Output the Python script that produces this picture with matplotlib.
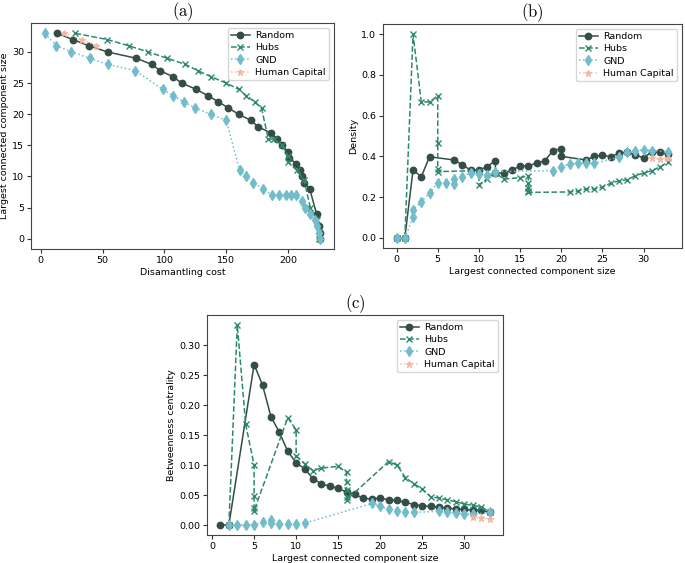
import matplotlib.pyplot as plt

plt.rcParams['mathtext.fontset'] = 'cm'

# colours of the four strategies
c_random = '#344e47'
c_hubs = '#2e8a6c'
c_gnd = '#72bccc'
c_hc = '#f0b49c'

# ---- panel (a): dismantling cost vs LCC size
a_random_x = [13, 26, 38.7, 54, 77, 89.7, 96.6, 107, 114, 125.6, 135, 143.6, 151.7, 160, 170, 175.6,
              186, 191, 195, 200, 201, 206.7, 210, 211, 213, 217.5, 223, 225, 226, 226]
a_random_y = [33, 32, 31, 30, 29, 28, 27, 26, 25, 24, 23, 22, 21, 20, 19, 18,
              17, 16, 15, 14, 13, 12, 11, 10, 9, 8, 4, 2, 1, 0]
a_hubs_x = [28, 53.7, 71, 87, 102, 117, 127, 138, 150, 160, 166, 173, 178.5,
            184, 189, 195, 200, 200, 207, 213, 218, 223, 225, 225]
a_hubs_y = [33, 32, 31, 30, 29, 28, 27, 26, 25, 24, 23, 22, 21,
            16, 16, 15, 13.3, 12.3, 11, 9.4, 5, 3, 1.3, 0]
a_gnd_x = [3.2, 12.6, 24.7, 39.5, 54, 76.5, 98.5, 107, 115.4, 125, 137.4, 150, 160.8, 166, 172, 180,
           187, 193, 198, 202.7, 206.7, 211, 214, 218, 221.5, 223, 225, 225.8]
a_gnd_y = [33, 31, 30, 29, 28, 27, 24, 23, 22, 21, 20, 19, 11, 10, 9, 8,
           7, 7, 7, 7, 7, 6, 5, 4, 3, 2, 1, 0]
a_hc_x = [18.5, 33.6, 44.6]
a_hc_y = [33, 32, 31]

# ---- panel (b): LCC size vs density
b_random_x = [0, 1, 2, 3, 4, 7, 8, 9, 10, 11, 12, 12, 13, 14, 15, 16, 17, 18, 19, 20, 20,
              23, 24, 25, 26, 27, 28, 29, 30, 31, 32, 33]
b_random_y = [0, 0, 0.333, 0.30, 0.398, 0.382, 0.357, 0.333, 0.333, 0.349, 0.379, 0.32, 0.316, 0.333,
              0.352, 0.354, 0.366, 0.379, 0.428, 0.438, 0.40,
              0.382, 0.40, 0.405, 0.398, 0.415, 0.421, 0.406, 0.393, 0.423, 0.42, 0.41]
b_hubs_x = [0, 1, 2, 3, 4, 5, 5, 5, 5, 10, 10, 11, 12, 13, 15, 16, 16, 16, 16, 16,
            21, 22, 23, 24, 25, 26, 27, 28, 29, 30, 31, 32, 33]
b_hubs_y = [0, 0, 1.0, 0.667, 0.667, 0.698, 0.467, 0.336, 0.325, 0.33, 0.26, 0.29, 0.32, 0.288, 0.295,
            0.305, 0.27, 0.243, 0.23, 0.223,
            0.225, 0.23, 0.24, 0.24, 0.25, 0.268, 0.28, 0.285, 0.305, 0.318, 0.33, 0.348, 0.374]
b_gnd_x = [0, 1, 2, 2, 3, 4, 5, 6, 7, 7, 8, 9, 10, 11, 12, 19, 20, 21, 22, 23, 24, 27, 28, 29, 30, 31, 33]
b_gnd_y = [0, 0, 0.1, 0.139, 0.177, 0.221, 0.27, 0.27, 0.265, 0.29, 0.3, 0.32, 0.313, 0.308, 0.325,
           0.33, 0.35, 0.362, 0.366, 0.366, 0.366, 0.395, 0.42, 0.428, 0.431, 0.428, 0.423]
b_hc_x = [31, 32, 33]
b_hc_y = [0.39, 0.388, 0.392]

# ---- panel (c): LCC size vs betweenness centrality
c_random_x = [1, 2, 5, 6, 7, 8, 9, 10, 11, 12, 13, 14, 15, 16, 17, 18, 19, 20, 21, 22, 23, 24,
              25, 26, 27, 28, 29, 30, 31, 32, 33]
c_random_y = [0, 0, 0.268, 0.234, 0.181, 0.155, 0.123, 0.104, 0.094, 0.0775, 0.0686, 0.065, 0.061,
              0.055, 0.051, 0.0446, 0.0435, 0.045, 0.042, 0.041, 0.038, 0.034, 0.032, 0.031, 0.030,
              0.028, 0.027, 0.026, 0.025, 0.0245, 0.021]
c_hubs_x = [2, 3, 4, 5, 5, 5, 5, 9, 10, 10, 11, 12, 13, 15, 16, 16, 16, 16, 16,
            21, 22, 23, 24, 25, 26, 27, 28, 29, 30, 31, 32, 33]
c_hubs_y = [0, 0.334, 0.168, 0.1, 0.049, 0.028, 0.024, 0.179, 0.159, 0.116, 0.102, 0.091, 0.095, 0.098,
            0.088, 0.071, 0.059, 0.046, 0.042,
            0.106, 0.1, 0.079, 0.069, 0.06, 0.047, 0.045, 0.042, 0.039, 0.035, 0.033, 0.03, 0.022]
c_gnd_x = [2, 3, 4, 5, 6, 7, 7, 8, 9, 10, 11, 19, 20, 21, 22, 23, 24, 27, 28, 29, 30, 31, 33]
c_gnd_y = [0, 0, 0, 0, 0.0045, 0.008, 0.003, 0.002, 0.001, 0.002, 0.003, 0.036, 0.031, 0.026, 0.024,
           0.022, 0.021, 0.023, 0.022, 0.02, 0.019, 0.018, 0.021]
c_hc_x = [31, 32, 33]
c_hc_y = [0.0134, 0.0117, 0.010]

FS = 6.8


def draw(ax, data, title, xlabel, ylabel):
    (rx, ry), (hx, hy), (gx, gy), (cx, cy) = data
    ax.plot(rx, ry, '-o', color=c_random, markersize=4.6, linewidth=1.1, label='Random')
    ax.plot(hx, hy, '--x', color=c_hubs, markersize=4.6, linewidth=1.1, label='Hubs')
    ax.plot(gx, gy, ':d', color=c_gnd, markersize=5.5, linewidth=1.1, label='GND')
    ax.plot(cx, cy, ':*', color=c_hc, markersize=4.6, linewidth=1.1, alpha=0.8, label='Human Capital')
    ax.set_title(r'$\mathrm{(' + title + ')}$', fontsize=12, pad=5)
    ax.set_xlabel(xlabel, fontsize=FS, labelpad=2)
    ax.set_ylabel(ylabel, fontsize=FS, labelpad=2)
    ax.tick_params(labelsize=FS, length=3, pad=2, color='#333333')
    for s in ax.spines.values():
        s.set_color('#444444')
    ax.legend(loc='upper right', fontsize=FS, handlelength=2.0, borderpad=0.35,
              labelspacing=0.35, handletextpad=0.6)


fig = plt.figure(figsize=(6.85, 5.63), dpi=100)
ax_a = fig.add_axes([0.0453, 0.5577, 0.4423, 0.4014])
ax_b = fig.add_axes([0.5591, 0.5595, 0.4365, 0.3980])
ax_c = fig.add_axes([0.3022, 0.0497, 0.4321, 0.3908])

draw(ax_a, [(a_random_x, a_random_y), (a_hubs_x, a_hubs_y), (a_gnd_x, a_gnd_y), (a_hc_x, a_hc_y)],
     'a', 'Disamantling cost', 'Largest connected component size')
draw(ax_b, [(b_random_x, b_random_y), (b_hubs_x, b_hubs_y), (b_gnd_x, b_gnd_y), (b_hc_x, b_hc_y)],
     'b', 'Largest connected component size', 'Density')
draw(ax_c, [(c_random_x, c_random_y), (c_hubs_x, c_hubs_y), (c_gnd_x, c_gnd_y), (c_hc_x, c_hc_y)],
     'c', 'Largest connected component size', 'Betweenness centrality')

ax_a.set_xticks([0, 50, 100, 150, 200])
ax_a.set_yticks([0, 5, 10, 15, 20, 25, 30])
ax_c.set_yticks([0, 0.05, 0.10, 0.15, 0.20, 0.25, 0.30])

fig.savefig('out.png', dpi=100)
